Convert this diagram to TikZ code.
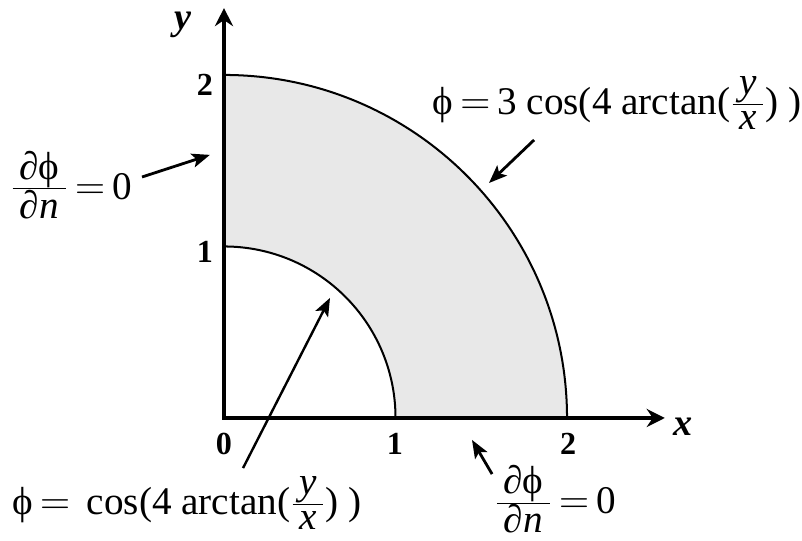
\documentclass[tikz,border=0pt]{standalone}
\usepackage{fontspec}
\setmainfont{Liberation Serif}
\usetikzlibrary{arrows.meta}
\tikzset{
  axis/.style={line width=2pt, {Stealth[length=9pt,width=9pt,inset=3pt]}-{Stealth[length=9pt,width=9pt,inset=3pt]}},
  pointer/.style={line width=1.4pt, -{Stealth[length=9pt,width=7pt,inset=2pt]}},
  tick/.style={font=\fontsize{16}{19}\selectfont\bfseries},
  axlab/.style={font=\fontsize{19}{22}\selectfont\bfseries\itshape},
  lbl/.style={inner sep=0pt, font=\fontsize{19.5}{23}\selectfont}
}
\newcommand{\bfrac}[2]{\ensuremath{\frac{\mbox{\,#1\,}}{\mbox{\,#2\,}}}}
\begin{document}
\begin{tikzpicture}[x=3cm,y=3cm]
  \useasboundingbox (-1.306,-0.717) rectangle (3.370,2.437);
  \fill[gray!18] (0,1) -- (0,2) arc (90:0:2) -- (1,0) arc (0:90:1) -- cycle;
  \draw[line width=1pt] (0,2) arc (90:0:2);
  \draw[line width=1pt] (0,1) arc (90:0:1);
  \coordinate (ytip) at (0,2.39);
  \coordinate (xtip) at (2.57,0);
  \draw[axis] (ytip) -- (0,0) -- (xtip);
  \node[axlab] (ylab) at (-0.239,2.29) {y};
  \node[axlab] (xlab) at (2.676,-0.05) {x};
  \node[tick] (y2) at (-0.111,1.942) {2};
  \node[tick] (y1) at (-0.111,0.968) {1};
  \node[tick] (x0) at (0,-0.152) {0};
  \node[tick] (x1) at (0.997,-0.152) {1};
  \node[tick] (x2) at (2.006,-0.152) {2};
  % boundary labels
  \node[lbl] (left) at (-0.892,1.359) {\bfrac{∂ϕ}{∂\textit{n}}$\,=\,$0};
  \node[lbl] (outer) at (2.292,1.837) {ϕ$\,=\,$3 cos(4 arctan(\bfrac{\textit{y}}{\textit{x}}) )};
  \node[lbl] (inner) at (-0.216,-0.496) {ϕ$\,=\,$ cos(4 arctan(\bfrac{\textit{y}}{\textit{x}}) )};
  \node[lbl] (bottom) at (1.930,-0.475) {\bfrac{∂ϕ}{∂\textit{n}}$\,=\,$0};
  \coordinate (tleft) at (-0.478,1.405);
  \coordinate (pleft) at (-0.082,1.534);
  \coordinate (touter) at (1.808,1.621);
  \coordinate (pouter) at (1.545,1.370);
  \coordinate (tinner) at (0.111,-0.292);
  \coordinate (pinner) at (0.618,0.700);
  \coordinate (tbottom) at (1.563,-0.327);
  \coordinate (pbottom) at (1.446,-0.128);
  \draw[pointer] (tleft) -- (pleft);
  \draw[pointer] (touter) -- (pouter);
  \draw[pointer, line width=1.2pt] (tinner) -- (pinner);
  \draw[pointer] (tbottom) -- (pbottom);
\end{tikzpicture}
\end{document}
